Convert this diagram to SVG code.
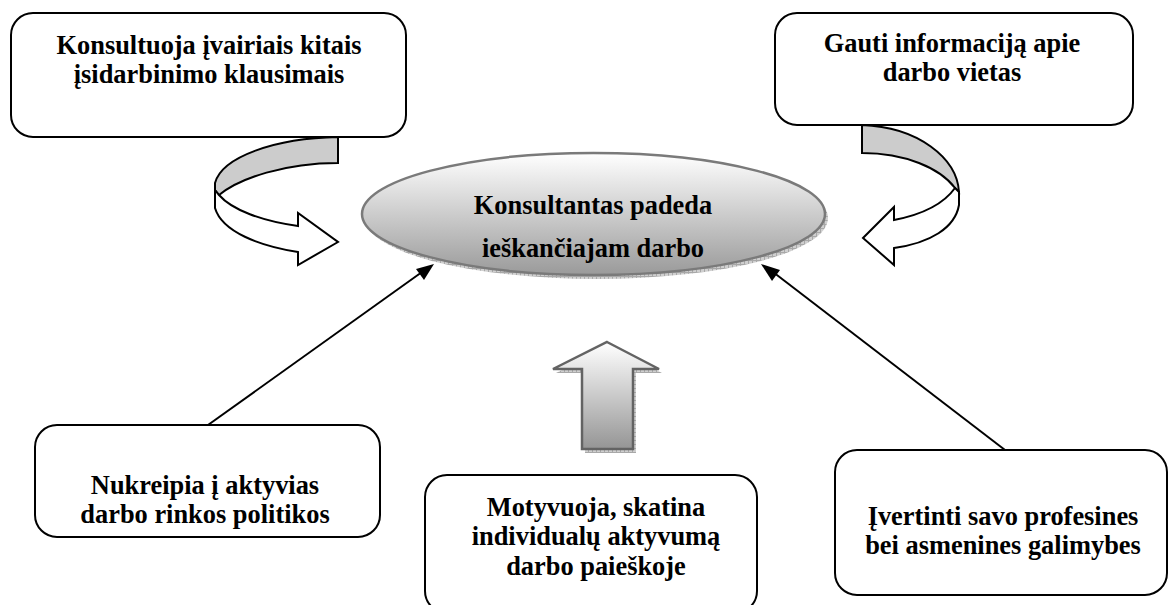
<svg xmlns="http://www.w3.org/2000/svg" width="1169" height="605" viewBox="0 0 1169 605">
  <style>
    .box { fill: #ffffff; stroke: #000000; stroke-width: 2; }
    .lbl { font-family: "Liberation Serif", "Times New Roman", serif; font-weight: bold; font-size: 26.4px; fill: #000000; text-anchor: middle; }
    .link { stroke: #000000; stroke-width: 2; fill: none; }
    .ribbon { stroke: #000000; stroke-width: 2; stroke-linejoin: miter; }
  </style>
  <defs>
    <linearGradient id="ovalFill" x1="0" y1="0" x2="0" y2="1">
      <stop offset="0" stop-color="#ffffff"/>
      <stop offset="1" stop-color="#9a9a9a"/>
    </linearGradient>
    <linearGradient id="upFill" x1="0" y1="0" x2="0" y2="1">
      <stop offset="0" stop-color="#ffffff"/>
      <stop offset="1" stop-color="#959595"/>
    </linearGradient>
    <pattern id="hatch" width="4" height="4" patternUnits="userSpaceOnUse">
      <rect width="4" height="4" fill="#cfcfcf"/>
      <path d="M0,0.5 H4 M0.5,0 V4" stroke="#a8a8a8" stroke-width="1"/>
    </pattern>
  </defs>

  <!-- connectors -->
  <g id="connectors">
    <line class="link" x1="208" y1="425" x2="422" y2="272"/>
    <path d="M434,264 L416,269 L424,280 Z" fill="#000000"/>
    <line class="link" x1="1005" y1="450" x2="773" y2="272"/>
    <path d="M761,264 L772,281 L780,270 Z" fill="#000000"/>

    <!-- curved ribbon arrow, left -->
    <path class="ribbon" fill="#cccccc" d="M338,137 C275,138 222,157 215,183 L215,190 L219,195 C240,178 285,163 338,163 Z"/>
    <path class="ribbon" fill="#ffffff" d="M219,195 C232,210 262,221 298,226 L298,213 L338,242 L298,265 L298,252 C260,246 222,232 215,208 L215,190 Z"/>

    <!-- curved ribbon arrow, right -->
    <path class="ribbon" fill="#cccccc" d="M862,125 C918,127 957,158 959,192 L955,188 C940,168 905,153 862,153 Z"/>
    <path class="ribbon" fill="#ffffff" d="M955,188 C945,202 925,214 894,220 L894,207 L863,238 L894,265 L894,248 C930,243 955,228 959,205 L959,192 Z"/>

    <!-- block arrow pointing up -->
    <path fill="url(#hatch)" d="M610,346 L662,373 L636,373 L636,453 L585,453 L585,373 L556,373 Z"/>
    <path fill="url(#upFill)" stroke="#636363" stroke-width="2.5" stroke-linejoin="miter" d="M607,342 L659,369 L633,369 L633,449 L582,449 L582,369 L553,369 Z"/>
  </g>

  <!-- central node -->
  <g id="node-center">
    <ellipse cx="596.5" cy="218" rx="231.5" ry="61" fill="url(#hatch)"/>
    <ellipse cx="593.5" cy="214" rx="231.5" ry="61" fill="url(#ovalFill)" stroke="#7a7a7a" stroke-width="2.5"/>
    <text class="lbl" x="593" y="214">Konsultantas padeda</text>
    <text class="lbl" x="593" y="257">ieškančiajam darbo</text>
  </g>

  <g id="node-consult">
    <rect class="box" x="11" y="13" width="395" height="124" rx="22"/>
    <text class="lbl" x="209" y="54">Konsultuoja įvairiais kitais</text>
    <text class="lbl" x="209" y="83.4">įsidarbinimo klausimais</text>
  </g>

  <g id="node-info">
    <rect class="box" x="775" y="13" width="358" height="112" rx="22"/>
    <text class="lbl" x="952" y="51.5">Gauti informaciją apie</text>
    <text class="lbl" x="952" y="80.9">darbo vietas</text>
  </g>

  <g id="node-refer">
    <rect class="box" x="35" y="425" width="345" height="112" rx="22"/>
    <text class="lbl" x="205" y="494">Nukreipia į aktyvias</text>
    <text class="lbl" x="205" y="523.4">darbo rinkos politikos</text>
  </g>

  <g id="node-motivate">
    <rect class="box" x="425" y="475" width="332" height="138" rx="22"/>
    <text class="lbl" x="596" y="516">Motyvuoja, skatina</text>
    <text class="lbl" x="596" y="545.4">individualų aktyvumą</text>
    <text class="lbl" x="596" y="574.8">darbo paieškoje</text>
  </g>

  <g id="node-assess">
    <rect class="box" x="835" y="450" width="332" height="145" rx="22"/>
    <text class="lbl" x="1003" y="524.5">Įvertinti savo profesines</text>
    <text class="lbl" x="1003" y="553.9">bei asmenines galimybes</text>
  </g>
</svg>
